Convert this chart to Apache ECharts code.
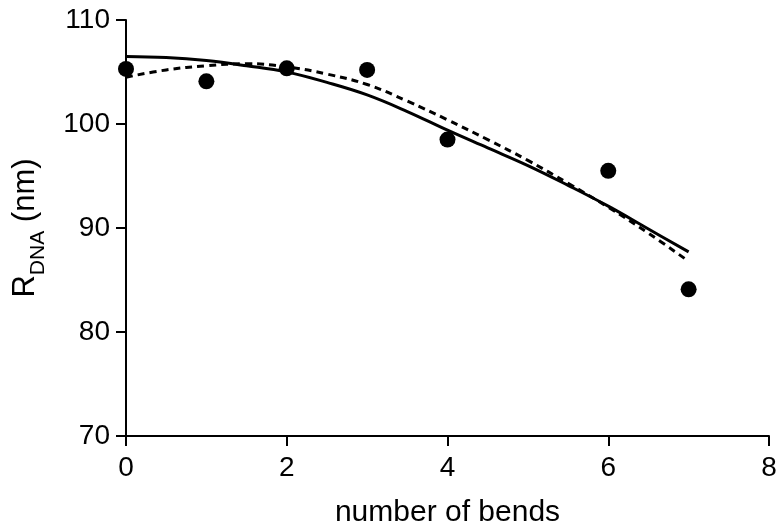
<!DOCTYPE html>
<html>
<head>
<meta charset="utf-8">
<script src="https://cdn.jsdelivr.net/npm/echarts@6/dist/echarts.min.js"></script>
<style>
  html, body { margin: 0; padding: 0; background: #fff; }
  #chart { width: 779px; height: 529px; }
</style>
</head>
<body>
<div id="chart"></div>
<script>
// measured points
const bends = [0, 1, 2, 3, 4, 6, 7]
const rdna = [105.3, 104.1, 105.35, 105.2, 98.5, 95.5, 84.1]

// fitted curves, every half bend
const fitX = [0, 0.5, 1, 1.5, 2, 2.5, 3, 3.5, 4, 4.5, 5, 5.5, 6, 6.5, 7]
const solidFit = [106.5, 106.4, 106.1, 105.6, 105.0, 104.0, 102.8, 101.2, 99.4, 97.7, 96.0, 94.1, 92.1, 89.9, 87.7]
const dashedFit = [104.5, 105.2, 105.6, 105.8, 105.5, 104.8, 103.8, 102.2, 100.4, 98.5, 96.5, 94.3, 92.0, 89.5, 86.8]

const xTicks = [0, 2, 4, 6, 8]
const yTicks = [70, 80, 90, 100, 110]

const zip = (xs, ys) => xs.map((x, i) => [x, ys[i]])

const font = '"Liberation Sans", Arial, sans-serif'
const axisCommon = {
    axisLine: { show: true, onZero: false, lineStyle: { color: '#000', width: 2 } },
    axisTick: { show: true, length: 10, lineStyle: { color: '#000', width: 2 } },
    splitLine: { show: false },
    axisLabel: { color: '#000', fontSize: 28, fontFamily: font }
}

const chart = echarts.init(document.getElementById('chart'), null, { renderer: 'canvas' })

chart.setOption({
    backgroundColor: '#fff',
    animation: false,
    grid: { left: 126, right: 10, top: 20, bottom: 93, containLabel: false, outerBoundsMode: 'none' },
    xAxis: {
        type: 'value',
        min: xTicks[0],
        max: xTicks[xTicks.length - 1],
        interval: 2,
        ...axisCommon,
        axisLabel: { ...axisCommon.axisLabel, margin: 18 },
        name: 'number of bends',
        nameLocation: 'middle',
        nameGap: 62,
        nameTextStyle: { color: '#000', fontSize: 30, fontFamily: font }
    },
    yAxis: {
        type: 'value',
        min: yTicks[0],
        max: yTicks[yTicks.length - 1],
        interval: 10,
        ...axisCommon,
        axisLabel: { ...axisCommon.axisLabel, margin: 16 },
        name: '{r|R}{s|DNA}{r| (nm)}',
        nameLocation: 'middle',
        nameRotate: 90,
        nameGap: 85,
        nameTextStyle: {
            color: '#000',
            fontFamily: font,
            rich: {
                r: { fontSize: 31, fontFamily: font, color: '#000', verticalAlign: 'bottom', lineHeight: 34 },
                s: { fontSize: 21, fontFamily: font, color: '#000', verticalAlign: 'bottom', lineHeight: 34, padding: [0, 0, -8, 0] }
            }
        }
    },
    series: [
        {
            name: 'solid fit',
            type: 'line',
            data: zip(fitX, solidFit),
            smooth: 0.4,
            showSymbol: false,
            lineStyle: { color: '#000', width: 3 },
            z: 2
        },
        {
            name: 'dashed fit',
            type: 'line',
            data: zip(fitX, dashedFit),
            smooth: 0.4,
            showSymbol: false,
            lineStyle: { color: '#000', width: 3, type: [7, 5] },
            z: 2
        },
        {
            name: 'data',
            type: 'scatter',
            data: zip(bends, rdna),
            symbol: 'circle',
            symbolSize: 16,
            itemStyle: { color: '#000', opacity: 1 },
            z: 3
        }
    ]
})
</script>
</body>
</html>
